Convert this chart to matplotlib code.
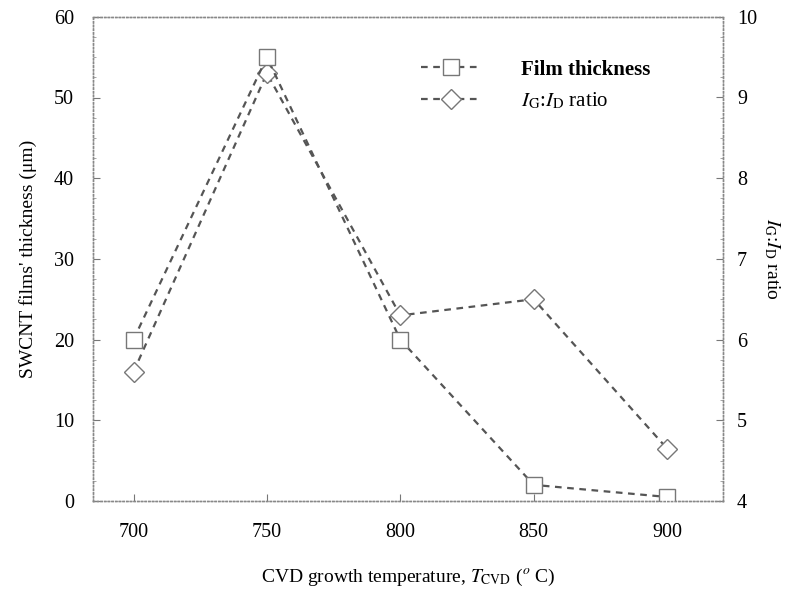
import matplotlib
matplotlib.use("Agg")
import matplotlib.pyplot as plt
from matplotlib.ticker import MultipleLocator

plt.rcParams["font.family"] = ["Liberation Serif", "DejaVu Serif"]
plt.rcParams["mathtext.fontset"] = "stix"

# data
temperature = [700, 750, 800, 850, 900]
thickness = [20, 55, 20, 2, 0.5]
ig_id_ratio = [5.6, 9.3, 6.3, 6.5, 4.65]

fig = plt.figure(figsize=(7.99, 6.0), dpi=100)
ax = fig.add_axes([0.117, 0.165, 0.788, 0.807])
ax2 = ax.twinx()

line_col = "#555555"
l1, = ax.plot(temperature, thickness, linestyle="--", color=line_col, lw=1.6,
              marker="s", markersize=11, markerfacecolor="white",
              markeredgecolor="#777777", markeredgewidth=1.0,
              dashes=(3, 2.5), label="Film thickness")
l2, = ax2.plot(temperature, ig_id_ratio, linestyle="--", color=line_col, lw=1.6,
               marker="D", markersize=10, markerfacecolor="white",
               markeredgecolor="#777777", markeredgewidth=1.0,
               dashes=(3, 2.5), label=r"$I_{\mathrm{G}}$:$I_{\mathrm{D}}$ ratio")
ax.set_zorder(ax2.get_zorder() + 1)
ax.patch.set_visible(False)

ax.set_xlim(685, 921)
ax.set_ylim(0, 60)
ax2.set_ylim(4, 10)
ax.set_xticks(temperature)
ax.yaxis.set_major_locator(MultipleLocator(10))
ax.yaxis.set_minor_locator(MultipleLocator(2.5))
ax2.yaxis.set_major_locator(MultipleLocator(1))
ax2.yaxis.set_minor_locator(MultipleLocator(0.25))

for a in (ax, ax2):
    a.tick_params(direction="in", length=5, width=0.8, color="#777777",
                  labelsize=14.5, pad=14)
    a.tick_params(which="minor", direction="in", length=2.5, color="#999999")
    for s in a.spines.values():
        s.set_color("#888888")
        s.set_linewidth(1.0)
        s.set_linestyle(":")
ax.tick_params(axis="x", pad=16)
ax2.tick_params(axis="y", pad=10)

ax.set_xlabel(r"CVD growth temperature, $T_{\mathrm{CVD}}$ ($^{o}$ C)",
              fontsize=14, labelpad=18)
ax.set_ylabel("SWCNT films' thickness (μm)", fontsize=14, labelpad=12)
ax2.set_ylabel(r"$I_{\mathrm{G}}$:$I_{\mathrm{D}}$ ratio", fontsize=14,
               rotation=-90, labelpad=18)

leg = ax.legend(handles=[l1, l2], loc="upper right",
                bbox_to_anchor=(0.915, 0.95), frameon=False, fontsize=15,
                handlelength=2.8, handletextpad=2.0, labelspacing=0.5)
leg.get_texts()[0].set_fontweight("bold")

fig.savefig("out.png", dpi=100)
